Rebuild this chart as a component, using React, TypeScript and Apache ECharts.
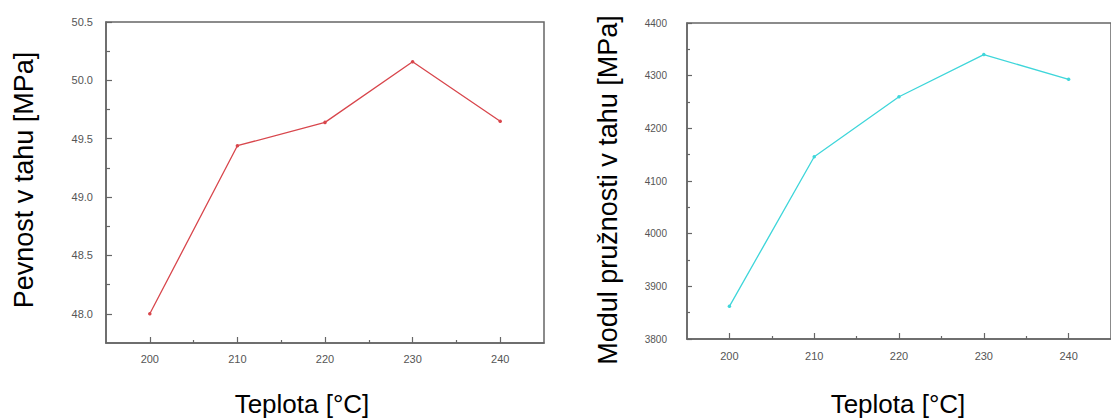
import React, { useEffect, useRef } from "react";
import * as echarts from "echarts";

const temps = [200, 210, 220, 230, 240];
const minorTemps = [205, 215, 225, 235];
const strength = [48.0, 49.44, 49.64, 50.16, 49.65];
const modulus = [3862, 4146, 4260, 4340, 4293];
const strengthTicks = [48.0, 48.5, 49.0, 49.5, 50.0, 50.5];
const strengthMinor = [48.25, 48.75, 49.25, 49.75, 50.25];

const AXIS = "#666";
const LABEL = "#555";
const FONT = "'Liberation Sans', Arial, sans-serif";

export default function App() {
  const ref = useRef<HTMLDivElement>(null);
  useEffect(() => {
    if (!ref.current) return;
    const chart = echarts.init(ref.current, undefined, { renderer: "svg" });
    const axisLine = { show: true, lineStyle: { color: AXIS, width: 1.5 } };
    const xMain = (gi: number, fs: number, margin: number) => ({
      type: "value",
      gridIndex: gi,
      min: 195,
      max: 245,
      axisLine,
      splitLine: { show: false },
      axisTick: { show: true, inside: true, length: 6, customValues: temps, lineStyle: { color: AXIS, width: 1.2 } },
      axisLabel: { show: true, customValues: temps, color: LABEL, fontSize: fs, fontFamily: FONT, margin },
    });
    const xMinor = (gi: number) => ({
      type: "value",
      gridIndex: gi,
      min: 195,
      max: 245,
      position: "bottom",
      axisLine: { show: false },
      splitLine: { show: false },
      axisTick: { show: true, inside: true, length: 3, customValues: minorTemps, lineStyle: { color: AXIS, width: 1.2 } },
      axisLabel: { show: false },
    });
    chart.setOption({
      animation: false,
      backgroundColor: "#fff",
      grid: [
        { left: 106, top: 22, width: 438, height: 321, show: true, borderColor: AXIS, borderWidth: 1.5, backgroundColor: "transparent" },
        { left: 687, top: 23, width: 431, height: 316, show: true, borderColor: AXIS, borderWidth: 1.5, backgroundColor: "transparent" },
      ],
      xAxis: [xMain(0, 11, 10), xMinor(0), xMain(1, 11, 11), xMinor(1)],
      yAxis: [
        {
          type: "value",
          gridIndex: 0,
          min: 47.75,
          max: 50.5,
          axisLine,
          splitLine: { show: false },
          axisTick: { show: true, inside: true, length: 6, customValues: strengthTicks, lineStyle: { color: AXIS, width: 1.2 } },
          axisLabel: {
            show: true,
            customValues: strengthTicks,
            formatter: (v: number) => v.toFixed(1),
            color: LABEL,
            fontSize: 11,
            fontFamily: FONT,
            margin: 13,
          },
        },
        {
          type: "value",
          gridIndex: 0,
          min: 47.75,
          max: 50.5,
          position: "left",
          axisLine: { show: false },
          splitLine: { show: false },
          axisTick: { show: true, inside: true, length: 4, customValues: strengthMinor, lineStyle: { color: AXIS, width: 1.2 } },
          axisLabel: { show: false },
        },
        {
          type: "value",
          gridIndex: 1,
          min: 3800,
          max: 4400,
          interval: 100,
          axisLine,
          splitLine: { show: false },
          axisTick: { show: true, inside: true, length: 5, lineStyle: { color: AXIS, width: 1.2 } },
          minorTick: { show: true, splitNumber: 2, length: 3, lineStyle: { color: AXIS, width: 1.2 } },
          axisLabel: { show: true, formatter: (v: number) => String(v), color: LABEL, fontSize: 10, fontFamily: FONT, margin: 20 },
        },
      ],
      graphic: [
        { type: "text", x: 24, y: 180, rotation: Math.PI / 2, style: { text: "Pevnost v tahu [MPa]", font: `27px ${FONT}`, fill: "#000", align: "center", verticalAlign: "middle" } },
        { type: "text", x: 608, y: 190, rotation: Math.PI / 2, style: { text: "Modul pružnosti v tahu [MPa]", font: `27px ${FONT}`, fill: "#000", align: "center", verticalAlign: "middle" } },
        { type: "text", x: 302, y: 404, style: { text: "Teplota [°C]", font: `26px ${FONT}`, fill: "#000", align: "center", verticalAlign: "middle" } },
        { type: "text", x: 898, y: 404, style: { text: "Teplota [°C]", font: `26px ${FONT}`, fill: "#000", align: "center", verticalAlign: "middle" } },
      ],
      series: [
        {
          type: "line",
          xAxisIndex: 0,
          yAxisIndex: 0,
          data: temps.map((t, i) => [t, strength[i]]),
          symbol: "circle",
          symbolSize: 3.5,
          itemStyle: { color: "#d8464c" },
          lineStyle: { color: "#d8464c", width: 1.3 },
        },
        {
          type: "line",
          xAxisIndex: 2,
          yAxisIndex: 2,
          data: temps.map((t, i) => [t, modulus[i]]),
          symbol: "circle",
          symbolSize: 3.5,
          itemStyle: { color: "#3fd6da" },
          lineStyle: { color: "#3fd6da", width: 1.3 },
        },
      ],
    });
    return () => chart.dispose();
  }, []);
  return <div ref={ref} style={{ position: "absolute", left: 0, top: 0, width: 1111, height: 420 }} />;
}
